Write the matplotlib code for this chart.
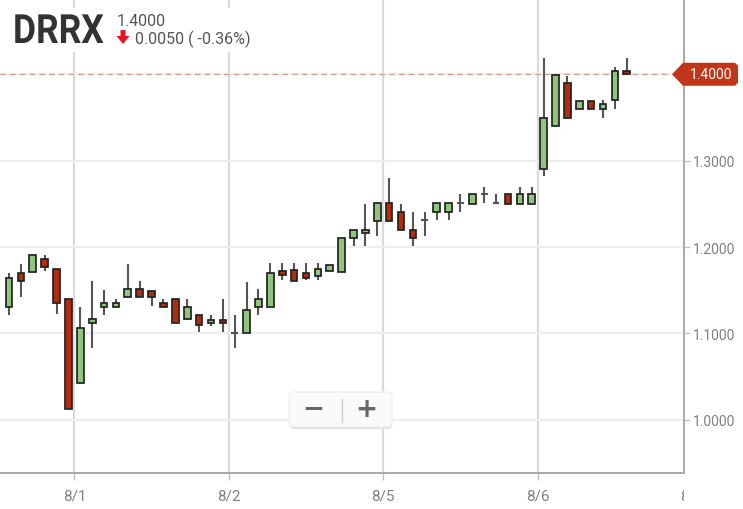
import matplotlib
matplotlib.use("Agg")
import matplotlib.pyplot as plt
from matplotlib.patches import Rectangle, Polygon, FancyBboxPatch
from matplotlib.transforms import Bbox, TransformedBbox, Affine2D, blended_transform_factory
from matplotlib import patheffects
import numpy as np

# ---------------- data (30-minute bars, 13 per session) ----------------
symbol = "DRRX"
last_price = "1.4000"
change_text = "0.0050 ( -0.36%)"

day_labels = ["8/1", "8/2", "8/5", "8/6", "8/7"]
bars_per_day = 13
bars_before_first_day = 7  # trailing bars of 7/31 visible at left

opens = [1.132, 1.131, 1.170, 1.171, 1.186, 1.175, 1.140,
         1.043, 1.112, 1.131, 1.131, 1.142, 1.151, 1.149, 1.135, 1.140, 1.117, 1.121, 1.112, 1.116,
         1.100, 1.101, 1.131, 1.131, 1.172, 1.174, 1.170, 1.167, 1.172, 1.171, 1.211, 1.216, 1.230,
         1.251, 1.240, 1.220, 1.231, 1.241, 1.241, 1.251, 1.250, 1.261, 1.251, 1.261, 1.250, 1.250,
         1.290, 1.340, 1.390, 1.360, 1.369, 1.360, 1.370, 1.404]
highs = [1.132, 1.170, 1.180, 1.191, 1.191, 1.175, 1.140,
         1.131, 1.161, 1.150, 1.140, 1.180, 1.161, 1.149, 1.140, 1.140, 1.140, 1.121, 1.121, 1.140,
         1.121, 1.159, 1.151, 1.181, 1.181, 1.181, 1.181, 1.181, 1.179, 1.210, 1.220, 1.250, 1.251,
         1.280, 1.250, 1.240, 1.240, 1.251, 1.251, 1.261, 1.261, 1.270, 1.261, 1.261, 1.270, 1.270,
         1.419, 1.400, 1.398, 1.369, 1.369, 1.370, 1.408, 1.419]
lows = [1.132, 1.121, 1.142, 1.171, 1.172, 1.123, 1.013,
        1.043, 1.083, 1.121, 1.131, 1.142, 1.142, 1.132, 1.131, 1.112, 1.116, 1.102, 1.109, 1.102,
        1.083, 1.101, 1.121, 1.131, 1.162, 1.161, 1.162, 1.162, 1.172, 1.171, 1.201, 1.201, 1.213,
        1.230, 1.220, 1.201, 1.213, 1.231, 1.231, 1.241, 1.250, 1.251, 1.251, 1.250, 1.250, 1.250,
        1.282, 1.340, 1.349, 1.360, 1.360, 1.349, 1.360, 1.400]
closes = [1.132, 1.164, 1.161, 1.191, 1.177, 1.135, 1.013,
          1.106, 1.117, 1.135, 1.135, 1.151, 1.142, 1.142, 1.131, 1.112, 1.131, 1.110, 1.116, 1.112,
          1.100, 1.127, 1.140, 1.170, 1.168, 1.161, 1.164, 1.175, 1.179, 1.210, 1.220, 1.220, 1.251,
          1.230, 1.220, 1.211, 1.231, 1.251, 1.251, 1.251, 1.261, 1.261, 1.251, 1.250, 1.261, 1.261,
          1.349, 1.399, 1.349, 1.369, 1.360, 1.365, 1.404, 1.400]

y_ticks = [1.0, 1.1, 1.2, 1.3]
y_grid = [1.0, 1.1, 1.2, 1.3, 1.4]

# ---------------- styling ----------------
W, H = 743, 510
GREEN = "#8fc67c"
RED = "#b52b0e"
EDGE = "#222222"
WICK = "#555555"
GRID_V = "#dadada"
GRID_H = "#eeeeee"
SPINE = "#a8a8a8"
LABEL = "#808080"

plt.rcParams['font.family'] = ['Roboto', 'DejaVu Sans']


class HStretch(patheffects.AbstractPathEffect):
    """Horizontally condense glyphs about the text origin."""
    def __init__(self, sx):
        super().__init__()
        self.sx = sx

    def draw_path(self, renderer, gc, tpath, affine, rgbFace=None):
        renderer.draw_path(gc, tpath, Affine2D().scale(self.sx, 1) + affine, rgbFace)


fig = plt.figure(figsize=(W / 100, H / 100), dpi=100)
fig.patch.set_facecolor("white")


def fx(px):
    return px / W


def fy(py):
    return 1 - py / H


ax_left, ax_right, ax_top, ax_bottom = 0, 684, 0, 474
ax = fig.add_axes([fx(ax_left), fy(ax_bottom), (ax_right - ax_left) / W, (ax_bottom - ax_top) / H])
ax.set_facecolor("white")

n = len(opens)
x = np.arange(n) - bars_before_first_day
o = np.array(opens); h = np.array(highs); l = np.array(lows); c = np.array(closes)

# grid
day_starts = [k * bars_per_day - 0.5 for k in range(len(day_labels))]
for d in day_starts:
    ax.axvline(d, color=GRID_V, lw=1.6, zorder=0)
for g in y_grid:
    ax.axhline(g, color=GRID_H, lw=1.6, zorder=0)

# last price dashed line
ax.axhline(c[-1], xmin=0, xmax=667 / 684, color="#e39a8a", lw=1.0, ls=(0, (4, 3)), zorder=1)

# wicks
ax.vlines(x, l, h, color=WICK, lw=1.5, zorder=2)

# bodies
width = 0.56
colors = np.where(c > o, GREEN, np.where(c < o, RED, WICK))
bottoms = np.minimum(o, c)
heights = np.abs(c - o)
for xi, b, hh, col in zip(x, bottoms, heights, colors):
    if hh == 0:
        ax.hlines(b, xi - width / 2, xi + width / 2, color=WICK, lw=1.5, zorder=3)
    else:
        ax.add_patch(Rectangle((xi - width / 2, b), width, hh, facecolor=col,
                               edgecolor=EDGE, lw=1.25, zorder=3))

# spines
for s in ["top", "left"]:
    ax.spines[s].set_visible(False)
for s in ["right", "bottom"]:
    ax.spines[s].set_color(SPINE)
    ax.spines[s].set_linewidth(1.4)

# y axis on right
ax.yaxis.tick_right()
ax.set_yticks(y_ticks)
ax.set_yticklabels([f"{v:.4f}" for v in y_ticks])
ax.tick_params(axis="y", length=4.5, width=1.0, color="#c0c0c0", labelcolor=LABEL,
               labelsize=10, pad=2)
ax.tick_params(axis="y", left=False)

# x ticks at session boundaries, labels drawn as clipped text
ax.set_xticks(day_starts)
ax.set_xticklabels([])
ax.tick_params(axis="x", length=5, width=1.0, color="#c0c0c0", direction="out")

# view limits (set after ticks so they are not expanded)
ax.set_xlim(-6.76, 50.82)
ax.set_ylim(0.9385, 1.4871)

clipbox = TransformedBbox(Bbox.from_extents(0, 0, fx(684), 1), fig.transFigure)
xt = blended_transform_factory(ax.transData, ax.transAxes)
for d, lab in zip(day_starts, day_labels):
    t = ax.text(d, -23 / 474, lab, transform=xt, ha="center", va="center",
                fontsize=11, color=LABEL, clip_on=True)
    t.set_clip_box(clipbox)

# header box
fig.patches.append(Rectangle((0, fy(53)), fx(266), (53 - 9) / H, transform=fig.transFigure,
                             facecolor="white", edgecolor="none", zorder=5))
fig.text(fx(13), fy(44), symbol, fontsize=29, fontweight="bold", color="#333333",
         va="baseline", zorder=6, path_effects=[HStretch(0.88)])
fig.text(fx(117), fy(26), last_price, fontsize=11.5, color="#555555", va="baseline", zorder=6)
fig.text(fx(135), fy(44), change_text, fontsize=11.5, color="#555555", va="baseline", zorder=6)
arrow_pts = [(120.5, 31), (125.5, 31), (125.5, 37), (129.5, 37), (123, 45), (116.5, 37), (120.5, 37)]
fig.patches.append(Polygon([(fx(px), fy(py)) for px, py in arrow_pts], closed=True,
                           transform=fig.transFigure, facecolor="#e8121c", edgecolor="none", zorder=6))

# last price callout on right axis
fig.canvas.draw()
ly = ax.transData.transform((0, c[-1]))[1]
ypx = H - ly
call = [(672, ypx), (683, ypx - 11.5), (735, ypx - 11.5), (738, ypx - 8.5),
        (738, ypx + 8.5), (735, ypx + 11.5), (683, ypx + 11.5)]
fig.patches.append(Polygon([(fx(px), fy(py)) for px, py in call], closed=True,
                           transform=fig.transFigure, facecolor="#c0361a", edgecolor="none", zorder=6))
fig.text(fx(711), fy(ypx), f"{c[-1]:.4f}", fontsize=10, color="white", ha="center",
         va="center", zorder=7)

# zoom buttons
fig.patches.append(FancyBboxPatch((fx(290), fy(430)), fx(102), (430 - 395) / H,
                                  boxstyle="round,pad=0,rounding_size=0.006",
                                  transform=fig.transFigure, facecolor="#e3e3e3",
                                  edgecolor="none", zorder=5))
fig.patches.append(FancyBboxPatch((fx(289), fy(428)), fx(103), (428 - 393) / H,
                                  boxstyle="round,pad=0,rounding_size=0.006",
                                  transform=fig.transFigure, facecolor="#fafafa",
                                  edgecolor="#ececec", lw=0.8, zorder=6))
fig.lines.append(plt.Line2D([fx(342), fx(342)], [fy(400), fy(423)], transform=fig.transFigure,
                            color="#cfcfcf", lw=1, zorder=7))
fig.text(fx(313), fy(410), "\u2212", fontsize=19, fontweight="bold", color="#666666",
         ha="center", va="center", family=["DejaVu Sans"], zorder=7)
fig.text(fx(366), fy(410), "+", fontsize=19, fontweight="bold", color="#666666",
         ha="center", va="center", family=["DejaVu Sans"], zorder=7)

fig.savefig("out.png", dpi=100, facecolor="white")
